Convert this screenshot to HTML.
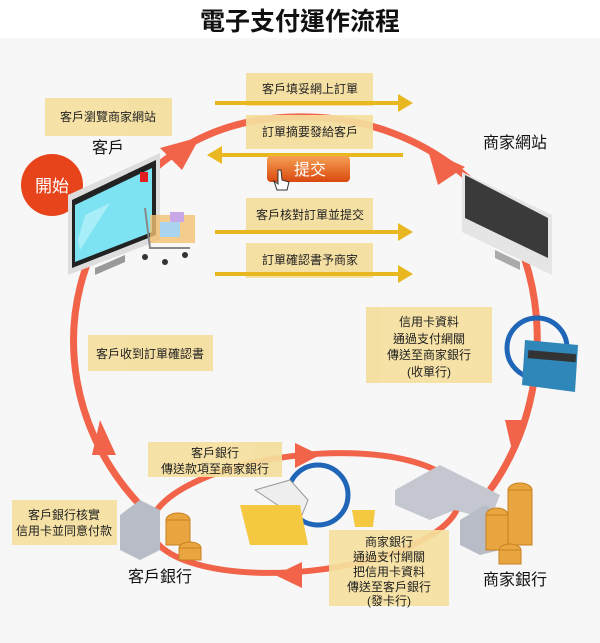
<!DOCTYPE html>
<html><head><meta charset="utf-8"><style>
body{margin:0;width:600px;height:638px;overflow:hidden;background:#f7f7f7;font-family:"Liberation Sans","Noto Sans CJK TC",sans-serif}
</style></head><body>
<svg width="600" height="638" viewBox="0 0 600 638" xmlns="http://www.w3.org/2000/svg" font-family="Liberation Sans, Noto Sans CJK TC, sans-serif">
<rect x="0" y="0" width="600" height="38" fill="#fff"/>
<text x="300" y="30" text-anchor="middle" font-size="25" font-weight="bold" fill="#111">電子支付運作流程</text>
<!-- big loop -->
<path d="M140,505 C60,420 55,300 110,220 C170,130 250,115 310,117 C420,120 500,190 525,260 C548,330 540,420 490,490" fill="none" stroke="#f26449" stroke-width="7"/>
<!-- small ellipse -->
<ellipse cx="305" cy="513" rx="155" ry="58" transform="rotate(-6 305 513)" fill="none" stroke="#f26449" stroke-width="6"/>
<!-- arrowheads -->
<polygon points="200,137 160,148 182,170" fill="#f26449"/>
<polygon points="428,150 465,167 438,185" fill="#f26449"/>
<polygon points="505,420 528,420 513,455" fill="#f26449"/>
<polygon points="92,455 116,455 100,420" fill="#f26449"/>
<polygon points="320,455 295,443 295,468" fill="#f26449"/>
<polygon points="275,575 302,562 302,588" fill="#f26449"/>
<!-- yellow boxes -->
<g fill="#f5df9e" opacity="0.92">
<rect x="45" y="98" width="127" height="38"/>
<rect x="246" y="73" width="127" height="33"/>
<rect x="246" y="115" width="127" height="34"/>
<rect x="246" y="198" width="127" height="36"/>
<rect x="246" y="243" width="127" height="35"/>
<rect x="88" y="335" width="125" height="36"/>
<rect x="366" y="307" width="126" height="76"/>
<rect x="148" y="442" width="134" height="35"/>
<rect x="12" y="500" width="105" height="45"/>
<rect x="329" y="530" width="120" height="76"/>
</g>
<!-- yellow arrows -->
<g stroke="#e9b820" stroke-width="4" fill="#e9b820">
<line x1="215" y1="103" x2="400" y2="103"/><polygon points="398,94 413,103 398,112" stroke="none"/>
<line x1="403" y1="155" x2="220" y2="155"/><polygon points="222,146 207,155 222,164" stroke="none"/>
<line x1="215" y1="232" x2="400" y2="232"/><polygon points="398,223 413,232 398,241" stroke="none"/>
<line x1="215" y1="274" x2="400" y2="274"/><polygon points="398,265 413,274 398,283" stroke="none"/>
</g>
<g font-size="12" fill="#222" text-anchor="middle">
<text x="108" y="121">客戶瀏覽商家網站</text>
<text x="310" y="93">客戶填妥網上訂單</text>
<text x="310" y="136">訂單摘要發給客戶</text>
<text x="310" y="219">客戶核對訂單並提交</text>
<text x="310" y="264">訂單確認書予商家</text>
<text x="150" y="358">客戶收到訂單確認書</text>
<text x="429" y="326">信用卡資料</text>
<text x="429" y="343">通過支付網關</text>
<text x="429" y="359">傳送至商家銀行</text>
<text x="429" y="376">(收單行)</text>
<text x="215" y="457">客戶銀行</text>
<text x="215" y="473">傳送款項至商家銀行</text>
<text x="64" y="519">客戶銀行核實</text>
<text x="64" y="535">信用卡並同意付款</text>
<text x="389" y="546">商家銀行</text>
<text x="389" y="561">通過支付網關</text>
<text x="389" y="576">把信用卡資料</text>
<text x="389" y="591">傳送至客戶銀行</text>
<text x="389" y="605">(發卡行)</text>
</g>
<g font-size="16" fill="#111" text-anchor="middle">
<text x="108" y="153">客戶</text>
<text x="515" y="148">商家網站</text>
<text x="160" y="582">客戶銀行</text>
<text x="515" y="585">商家銀行</text>
</g>
<!-- start -->
<circle cx="52" cy="185" r="31" fill="#e8441c"/>
<text x="52" y="192" font-size="17" fill="#fff" text-anchor="middle">開始</text>
<!-- submit button -->
<defs><linearGradient id="bt" x1="0" y1="0" x2="0" y2="1"><stop offset="0" stop-color="#f7a054"/><stop offset="1" stop-color="#d9480f"/></linearGradient></defs>
<rect x="267" y="156" width="83" height="26" rx="4" fill="url(#bt)"/>
<text x="310" y="175" font-size="16" fill="#fff" text-anchor="middle">提交</text>
<path d="M278,170 l0,14 l-4,-3 l3,9 l10,0 l2,-8 l-7,-2 l-1,-10 z" fill="#fff" stroke="#333" stroke-width="1"/>
<!-- left monitor -->
<polygon points="68,195 160,153 160,240 68,275" fill="#ddd"/>
<polygon points="72,200 156,160 156,235 72,268" fill="#222"/>
<polygon points="75,205 152,168 152,232 75,262" fill="#7de3f2"/>
<polygon points="85,215 110,203 80,250 78,240" fill="#a8eef8"/>
<rect x="140" y="172" width="8" height="10" fill="#e02020"/>
<polygon points="95,268 125,255 125,262 95,275" fill="#999"/>
<!-- cart -->
<g>
<rect x="150" y="215" width="45" height="28" fill="#f2c070" opacity="0.8"/>
<rect x="160" y="222" width="20" height="15" fill="#a8d4f0"/>
<rect x="170" y="212" width="14" height="10" fill="#c9a8e8"/>
<path d="M145,208 L150,248 L190,248" fill="none" stroke="#888" stroke-width="2"/>
<circle cx="145" cy="257" r="3" fill="#333"/><circle cx="165" cy="262" r="3" fill="#333"/><circle cx="185" cy="255" r="3" fill="#333"/>
</g>
<!-- right monitor -->
<polygon points="462,172 552,215 552,275 462,232" fill="#e5e5e5"/>
<polygon points="465,175 548,218 548,258 465,218" fill="#3a3a3a"/>
<polygon points="495,250 520,262 520,270 495,258" fill="#aaa"/>
<!-- credit card -->
<circle cx="537" cy="348" r="30" fill="none" stroke="#1f66b8" stroke-width="5"/>
<polygon points="525,340 578,345 575,392 522,385" fill="#2f86b8"/>
<rect x="528" y="352" width="48" height="8" fill="#333" transform="rotate(5 550 356)"/>
<!-- buildings -->
<polygon points="120,515 140,500 160,510 160,550 140,560 120,550" fill="#b8bcc6"/>
<polygon points="395,490 440,465 500,495 490,520 455,510 430,520 395,505" fill="#c4c7cf"/>
<polygon points="460,520 485,505 500,515 500,550 480,555 460,545" fill="#b8bcc6"/>
<!-- coins -->
<g fill="#e9a640" stroke="#c88020">
<ellipse cx="178" cy="520" rx="12" ry="7"/><rect x="166" y="520" width="24" height="25"/>
<ellipse cx="190" cy="548" rx="11" ry="6"/><rect x="179" y="548" width="22" height="12"/>
<ellipse cx="520" cy="490" rx="12" ry="7"/><rect x="508" y="490" width="24" height="55"/>
<ellipse cx="497" cy="515" rx="11" ry="7"/><rect x="486" y="515" width="22" height="35"/>
<ellipse cx="510" cy="550" rx="11" ry="6"/><rect x="499" y="550" width="22" height="14"/>
</g>
<!-- folders -->
<circle cx="318" cy="495" r="30" fill="none" stroke="#1f66b8" stroke-width="5"/>
<polygon points="255,490 290,480 308,500 300,520" fill="#eee" stroke="#999"/>
<polygon points="240,505 300,505 308,545 250,545" fill="#f5c842"/>
<polygon points="352,510 375,510 373,527 355,527" fill="#f5c842"/>
</svg>
</body></html>
